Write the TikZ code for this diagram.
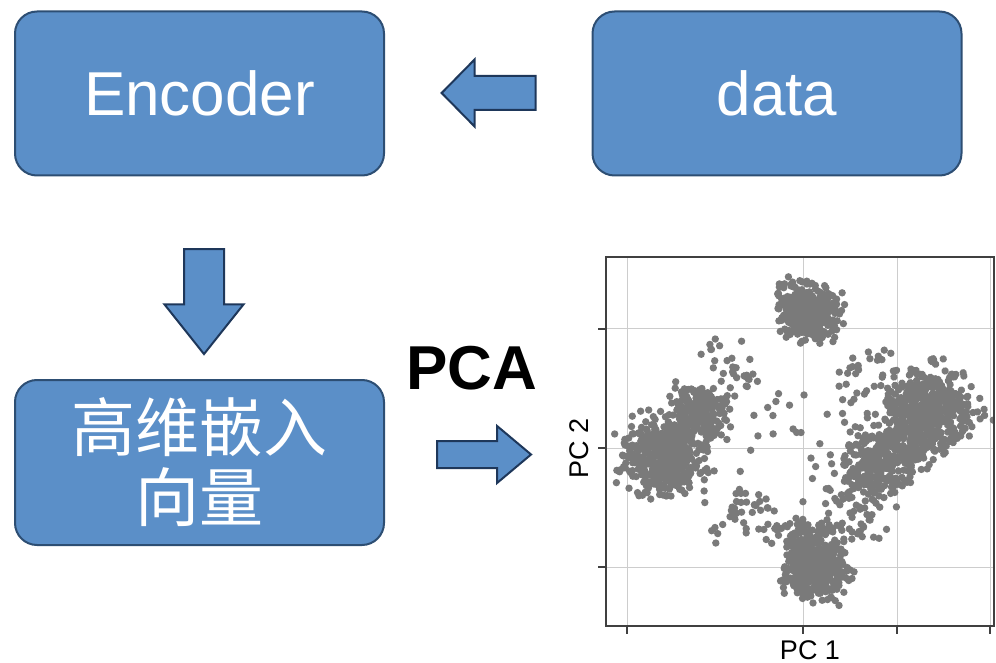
\documentclass[tikz,border=0pt]{standalone}
\usepackage{fontspec}
\setmainfont{Liberation Sans}
\newfontfamily\cjk{Noto Sans CJK SC}
\usepackage{xcolor}
\usepackage{tikz}
\usetikzlibrary{positioning,shapes.arrows}
\definecolor{boxblue}{RGB}{91,143,200}
\definecolor{boxline}{RGB}{45,78,115}
\definecolor{arrline}{RGB}{30,55,90}
\definecolor{dotgray}{RGB}{122,122,122}
\definecolor{gridgray}{RGB}{205,205,205}
\tikzset{
  block/.style={draw=boxline, line width=1pt, fill=boxblue, rounded corners=11pt,
    minimum width=184.5pt, minimum height=82pt, inner sep=0pt, text=white,
    font=\fontsize{31}{36}\selectfont, align=center},
  fatarrow/.style={single arrow, draw=arrline, line width=1pt, fill=boxblue,
    minimum width=0pt},
  pcdot/.style={fill=dotgray},
}
\newcommand{\ptblob}[6]{%
  \begin{scope}[shift={(#1,#2)},rotate=#5]
    \foreach \k in {1,...,#6}
      \fill[pcdot] ({#3*(rand+rand+rand)},{#4*(rand+rand+rand)}) circle (1.85pt);
  \end{scope}}

\begin{document}
\begin{tikzpicture}[x=0.5pt,y=-0.5pt]
  \useasboundingbox (0,0) rectangle (996,663);
  \pgfmathsetseed{7}

  \node[block] (enc) at (199.5,93.5) {Encoder};
  \node[block] (data) at (777,93.5) {data};
  \node[block, minimum height=82.5pt, font=\cjk\fontsize{32}{35}\selectfont] (emb) at (199.5,462.5) {高维嵌入\\向量};

  \node[fatarrow, inner sep=8pt, single arrow head extend=8.25pt, single arrow tip angle=91,
    minimum height=47pt, shape border rotate=180] (toenc) at (497,93) {};
  \node[fatarrow, inner sep=9.5pt, single arrow head extend=9.75pt, single arrow tip angle=77,
    minimum height=52.5pt, shape border rotate=270] (toemb) at (204,289) {};
  \node[fatarrow, inner sep=6.25pt, single arrow head extend=7.5pt, single arrow tip angle=80,
    minimum height=47pt] (topca) at (476,454.5) {};
  \node[font=\bfseries\fontsize{31}{36}\selectfont] (pca) at (472,368) {PCA};

  % PCA scatter
  \foreach \gx in {627,803,897,990}
    \draw[gridgray, line width=0.5pt] (\gx,257) -- (\gx,626);
  \foreach \gy in {329,448,567}
    \draw[gridgray, line width=0.5pt] (606,\gy) -- (994,\gy);
  \begin{scope}
    \clip (606,257) rectangle (994,626);
    \ptblob{809}{311}{15}{13}{0}{420}
    \ptblob{663}{457}{19}{18}{0}{520}
    \ptblob{700}{412}{14}{13}{0}{220}
    \ptblob{884}{460}{24}{17}{41}{380}
    \ptblob{928}{408}{21}{19}{30}{480}
    \ptblob{816}{568}{15}{14}{0}{420}
    \ptblob{812}{532}{22}{7}{0}{80}
    \ptblob{738}{372}{22}{12}{-40}{30}
    \ptblob{862}{374}{22}{12}{40}{30}
    \ptblob{745}{512}{22}{12}{40}{35}
    \ptblob{856}{515}{22}{12}{-40}{30}
    \foreach \k in {1,...,25}
      \fill[pcdot] ({800+60*rand},{445+60*rand}) circle (1.85pt);
  \end{scope}
  \draw[line width=0.6pt, black!75] (606,257) rectangle (994,626);
  \foreach \gy in {329,448,567}
    \draw[line width=0.6pt, black!75] (598,\gy) -- (606,\gy);
  \foreach \gx in {627,803,897,990}
    \draw[line width=0.6pt, black!75] (\gx,626) -- (\gx,634);
  \node[font=\fontsize{13.5}{15}\selectfont] (pc1) at (810,650) {PC 1};
  \node[font=\fontsize{13.5}{15}\selectfont, rotate=90] (pc2) at (579,448) {PC 2};
\end{tikzpicture}
\end{document}
